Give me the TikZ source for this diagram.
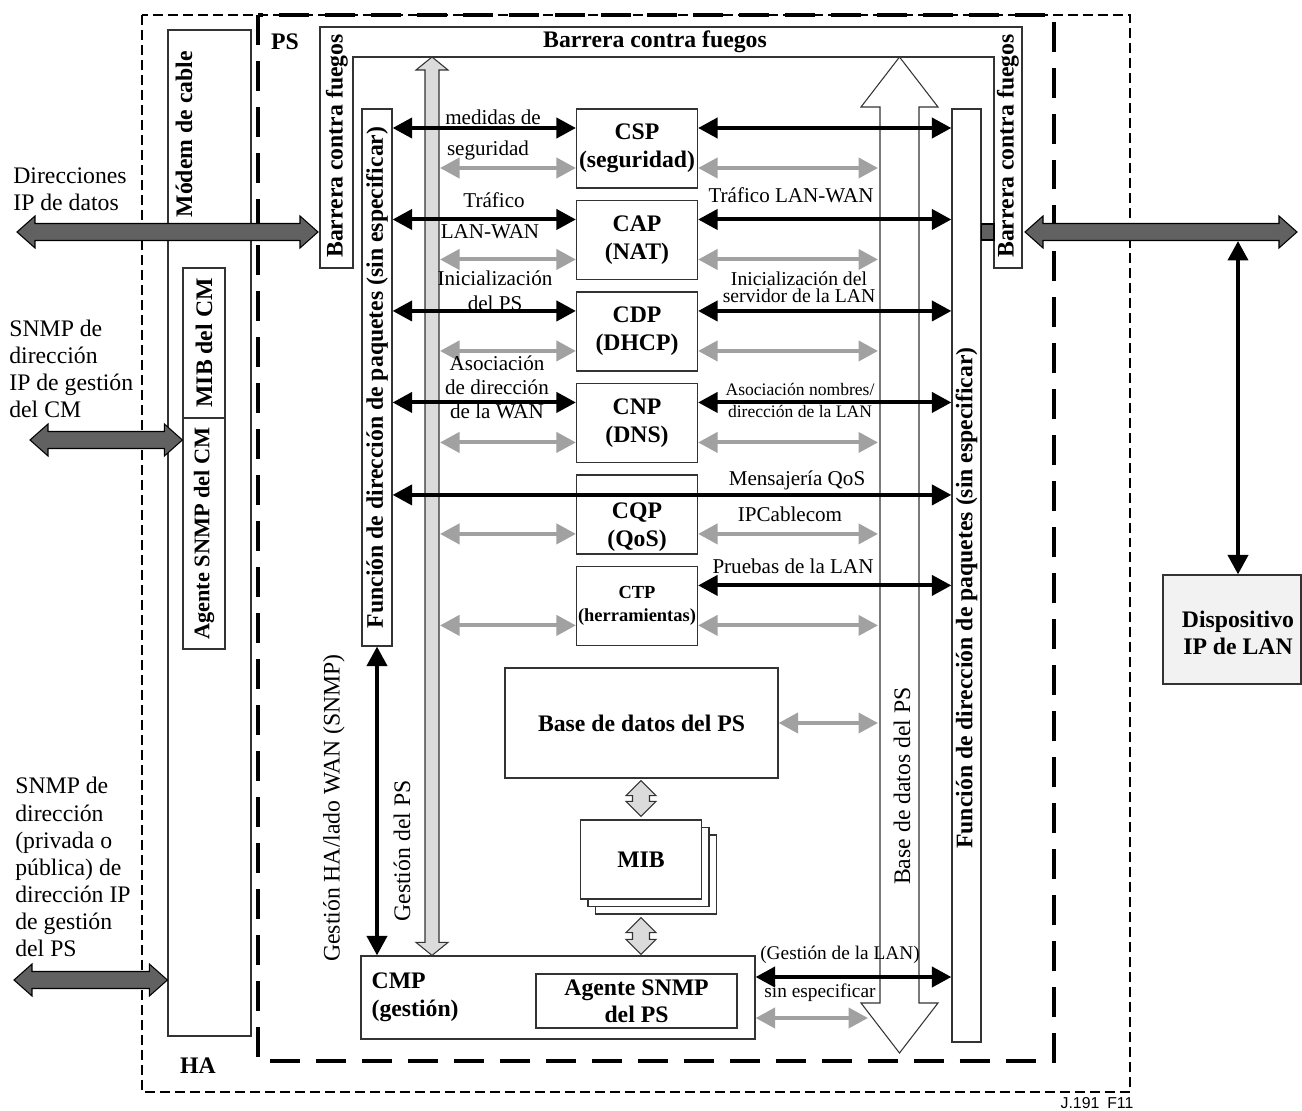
\documentclass[tikz,border=0pt]{standalone}
\usepackage{fontspec}
\setmainfont{Liberation Serif}
\setsansfont{Liberation Sans}
\usepackage{graphicx}
\usetikzlibrary{arrows.meta,calc,positioning}

% block arrow with a head at both ends: [style]{from}{to}{half shaft}{half head}{head length}
\newcommand{\dblarrow}[6][]{%
  \coordinate (ba) at ($(#2)!#6!(#3)$);
  \coordinate (bb) at ($(#3)!#6!(#2)$);
  \draw[#1] (#2) -- ($(ba)!#5!90:(#3)$) -- ($(ba)!#4!90:(#3)$)
    -- ($(bb)!#4!-90:(#2)$) -- ($(bb)!#5!-90:(#2)$) -- (#3)
    -- ($(bb)!#5!90:(#2)$) -- ($(bb)!#4!90:(#2)$)
    -- ($(ba)!#4!-90:(#3)$) -- ($(ba)!#5!-90:(#3)$) -- cycle;}

\begin{document}
\fontsize{13.5}{15.4}\selectfont
\begin{tikzpicture}[x=0.02cm,y=-0.02cm,node distance=1.83cm,on grid,
  box/.style={draw=black!80,line width=0.7pt,fill=white,inner sep=0pt},
  svc/.style={box,font=\bfseries\fontsize{13.5}{16}\selectfont,align=center,minimum width=2.42cm,minimum height=1.58cm},
  bt/.style={font=\bfseries,align=center},
  lb/.style={font=\fontsize{12}{13.7}\selectfont,align=center},
  blk/.style={{Triangle[length=0.39cm,width=0.4cm]}-{Triangle[length=0.39cm,width=0.4cm]},line width=0.08cm},
  gry/.style={blk,draw=black!37},
  dkarr/.style={draw=black,line width=0.6pt,fill=black!62},
  gblock/.style={draw=black!80,line width=0.6pt,fill=black!14}]
\useasboundingbox (0,0) rectangle (1302,1111);

% HA and PS
\draw[line width=0.03cm,dash pattern=on 0.2cm off 0.1cm] (142,15) rectangle (1130,1092);
\draw[line width=0.08cm,dash pattern=on 0.6cm off 0.32cm] (258,15) rectangle (1054,1061);
\node[bt] (ps) at (285,42) {PS};
\node[bt] (ha) at (198,1066) {HA};

% cable modem
\node[box,minimum width=1.66cm,minimum height=20.12cm] (cm) at (209.5,533) {};
\node[bt,anchor=north] (cmlbl) at (184,43) {\rotatebox{90}{Módem de cable}};
\node[box,bt,minimum width=0.84cm,minimum height=3cm] (mibcm) at (204,343) {\rotatebox{90}{MIB del CM}};
\node[box,bt,font=\bfseries\fontsize{12.7}{15}\selectfont,minimum width=0.84cm,minimum height=4.62cm] (agcm) at (204,533.5) {\rotatebox{90}{Agente SNMP del CM}};

% firewall
\draw[draw=black!80,line width=0.7pt] (320,268) -- (320,27) -- (1022,27) -- (1022,268) -- (994,268)
  -- (994,57) -- (353,57) -- (353,268) -- cycle;
\node[bt] (fwtop) at (655,42) {Barrera contra fuegos};
\node[bt] (fwleft) at (337,146) {\rotatebox{90}{Barrera contra fuegos}};
\node[bt] (fwright) at (1008,146) {\rotatebox{90}{Barrera contra fuegos}};

% packet routing
\node[box,bt,minimum width=0.6cm,minimum height=10.74cm] (lfun) at (377,377.5) {\rotatebox{90}{Función de dirección de paquetes (sin especificar)}};
\node[box,minimum width=0.58cm,minimum height=18.66cm] (rfun) at (966.5,575.5) {};
\node[bt] (rfunlbl) at (966.5,598) {\rotatebox{90}{Función de dirección de paquetes (sin especificar)}};

% service boxes
\node[svc] (csp) at (637,148.5) {CSP\\(seguridad)};
\node[svc] (cap) [below=of csp] {CAP\\(NAT)};
\node[svc] (cdp) [below=of cap] {CDP\\(DHCP)};
\node[svc] (cnp) [below=of cdp] {CNP\\(DNS)};
\node[svc] (cqp) [below=of cnp] {};
\node[svc,font=\bfseries\fontsize{10.5}{13}\selectfont] (ctp) [below=of cqp] {CTP\\(herramientas)};
\node[bt,font=\bfseries\fontsize{13.5}{16}\selectfont] (cqplbl) at ([yshift=-0.25cm]cqp.center) {CQP\\(QoS)};

% database, MIB and management
\node[box,bt,minimum width=5.46cm,minimum height=2.2cm] (bdps) at (641.5,723) {Base de datos del PS};
\node[box,minimum width=2.42cm,minimum height=1.58cm] (mib3) at (656,874.5) {};
\node[box,minimum width=2.42cm,minimum height=1.58cm] (mib2) at (648.5,867) {};
\node[box,bt,minimum width=2.42cm,minimum height=1.58cm] (mib) at (641,859.5) {MIB};
\node[box,minimum width=7.88cm,minimum height=1.66cm] (cmp) at (558,997.5) {};
\node[bt,align=left,anchor=west,font=\bfseries\fontsize{13.5}{16}\selectfont] (cmplbl) at ([xshift=0.06cm]cmp.west) {CMP\\(gestión)};
\node[box,bt,font=\bfseries\fontsize{13.5}{15.5}\selectfont,minimum width=4.02cm,minimum height=1.08cm] (agps) at (636.5,1001) {Agente SNMP\\del PS};

% block arrows
\coordinate (gtop) at (432,57);
\coordinate (gbot) at (gtop |- cmp.north);
\coordinate (gedge) at (440,57);
\dblarrow[gblock]{gtop}{gbot}{0.14cm}{0.32cm}{0.26cm}
\coordinate (bdtop) at (899.5,57);
\coordinate (bdbot) at (899.5,1053);
\coordinate (bdedge) at (878,57);
\dblarrow[draw=black!80,line width=0.6pt,fill=white]{bdtop}{bdbot}{0.39cm}{0.77cm}{1cm}
\coordinate (m1) at ($(mib.north |- bdps.south)+(0,2)$);
\coordinate (m2) at ($(mib.north)+(0,-3)$);
\dblarrow[gblock]{m1}{m2}{0.17cm}{0.3cm}{0.3cm}
\coordinate (m3) at ($(mib.south |- mib3.south)+(0,3)$);
\coordinate (m4) at ($(mib.south |- cmp.north)+(0,-1)$);
\dblarrow[gblock]{m3}{m4}{0.17cm}{0.3cm}{0.3cm}

\coordinate (dtl) at (17,232);
\coordinate (fwin) at (318,232);
\dblarrow[dkarr]{dtl}{fwin}{0.17cm}{0.32cm}{0.36cm}
\coordinate (cml) at (30,440);
\coordinate (cmr) at (agcm.west |- cml);
\dblarrow[dkarr]{cml}{cmr}{0.17cm}{0.32cm}{0.36cm}
\coordinate (psl) at (14,980);
\coordinate (psr) at (cm.west |- psl);
\dblarrow[dkarr]{psl}{psr}{0.17cm}{0.32cm}{0.36cm}
\coordinate (lanl) at (1025,232);
\coordinate (lanr) at (1297,232);
\dblarrow[dkarr]{lanl}{lanr}{0.17cm}{0.32cm}{0.36cm}
\draw[dkarr] (rfun.east |- 0,224) rectangle (994,240);

% LAN device
\node[box,fill=black!5,minimum width=2.76cm,minimum height=2.18cm] (dev) at (1232,629.5) {};
\node[bt] (devlbl) at (1238,633) {Dispositivo\\IP de LAN};
\coordinate (devtop) at (1238,241);
\draw[blk] (devtop) -- (devtop |- dev.north);

% links of the service boxes
\foreach \s in {csp,cap,cdp,cnp,cqp,ctp}{
  \coordinate (\s-b) at ([yshift=0.41cm]\s.west);
  \coordinate (\s-g) at ([yshift=-0.39cm]\s.west);
  \draw[gry] (gedge |- \s-g) -- (\s-g);
  \draw[gry] (\s.east |- \s-g) -- (bdedge |- \s-g);
}
\foreach \s in {csp,cap,cdp,cnp}
  \draw[blk] (lfun.east |- \s-b) -- (\s-b);
\foreach \s in {csp,cap,cdp,cnp,ctp}
  \draw[blk] (\s.east |- \s-b) -- (rfun.west |- \s-b);
\coordinate (qos) at ([yshift=0.39cm]cqp.west);
\draw[blk] (lfun.east |- qos) -- (rfun.west |- qos);
\draw[gry] (bdps.east) -- (bdedge |- bdps.east);

% management links
\draw[blk] (lfun.south) -- (lfun.south |- cmp.north);
\coordinate (lanm) at ([yshift=0.41cm]cmp.east);
\draw[blk] (lanm) -- (rfun.west |- lanm);
\coordinate (lanu) at ([yshift=-0.41cm]cmp.east);
\coordinate (lanue) at (868,1018);
\draw[gry] (lanu) -- (lanue |- lanu);

% labels
\node[lb] (l1) at (493,117) {medidas de};
\node[lb] (l2) at (488,150) {seguridad};
\node[lb] (l3) at (494,200) {Tráfico};
\node[lb] (l4) at (490,232) {LAN-WAN};
\node[lb,font=\fontsize{12}{14.2}\selectfont] (l5) at (495,291) {Inicialización\\del PS};
\node[lb] (l6) at (497,387) {Asociación\\de dirección\\de la WAN};
\node[lb] (r1) at (791,195) {Tráfico LAN-WAN};
\node[lb,font=\fontsize{11.2}{9.7}\selectfont] (r2) at (799,287) {Inicialización del\\servidor de la LAN};
\node[lb,font=\fontsize{10}{12.5}\selectfont] (r3) at (800,400) {Asociación nombres/\\dirección de la LAN};
\node[lb] (r4) at (797,480) {Mensajería QoS};
\node[lb] (r5) at (790,514) {IPCablecom};
\node[lb] (r6) at (793,566) {Pruebas de la LAN};
\node[lb,font=\fontsize{11}{13}\selectfont] (r7) at (840,955) {(Gestión de la LAN)};
\node[lb,font=\fontsize{11}{13}\selectfont] (r8) at (820,993) {sin especificar};
\node (v1) at (334,808) {\rotatebox{90}{Gestión HA/lado WAN (SNMP)}};
\node (v2) at (402,851) {\rotatebox{90}{Gestión del PS}};
\node (v3) at (902,786) {\rotatebox{90}{Base de datos del PS}};
\node[align=left,anchor=west,inner sep=0pt] (ipd) at (13,189) {Direcciones\\IP de datos};
\node[align=left,anchor=west,inner sep=0pt] (cmip) at (9,369) {SNMP de\\dirección\\IP de gestión\\del CM};
\node[align=left,anchor=west,inner sep=0pt] (psip) at (15,867) {SNMP de\\dirección\\(privada o\\pública) de\\dirección IP\\de gestión\\del PS};
\node[font=\sffamily\fontsize{9}{10}\selectfont] (jref) at (1097,1103) {J.191\enspace F11};
\end{tikzpicture}
\end{document}
